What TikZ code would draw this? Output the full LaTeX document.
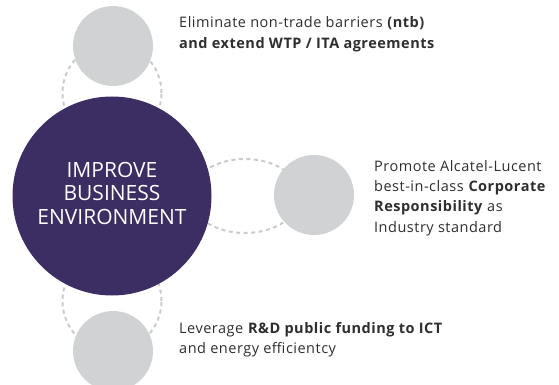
\documentclass[tikz,border=0pt]{standalone}
\usepackage{fontspec}
\setmainfont{Open Sans}
\newfontfamily\capfont[LetterSpace=3.5]{Open Sans}
\usetikzlibrary{shapes.geometric}
\definecolor{ipurple}{HTML}{3C2D63}
\definecolor{igray}{HTML}{D1D2D4}
\definecolor{idash}{HTML}{CACBCD}
\definecolor{itext}{HTML}{2E2E2E}
\tikzset{
  bubble/.style={circle, fill=igray, minimum size=80pt, inner sep=0pt},
  ring/.style={ellipse, draw=idash, line width=2pt, dash pattern=on 4pt off 3.5pt, inner sep=0pt},
  caption/.style={anchor=north west, inner sep=0pt, align=left, text=itext,
    font=\capfont\fontsize{14.5}{20.3}\selectfont}
}
\begin{document}
\begin{tikzpicture}[x=1pt,y=-1pt]
\useasboundingbox (0,0) rectangle (559,385);
% dashed rings behind
\node[ring, minimum width=99pt, minimum height=100pt] (ringtop) at (112,93) {};
\node[ring, minimum width=99pt, minimum height=100pt] (ringbot) at (112,301) {};
\node[ring, minimum width=110pt, minimum height=74pt] (ringright) at (245,196) {};
% circles
\node[circle, fill=ipurple, minimum size=199pt, inner sep=0pt] (main) at (112,196) {};
\node[bubble] (top) at (113,46) {};
\node[bubble] (right) at (314,195) {};
\node[bubble] (bottom) at (113,351) {};
% main text
\node[text=white, align=center, inner sep=0pt, font=\fontsize{21}{23.5}\selectfont] (maintext) at (112,193) {IMPROVE\\BUSINESS\\ENVIRONMENT};
% captions
\node[caption, font=\capfont\fontsize{14.5}{21.5}\selectfont] (ttop) at (179,16) {Eliminate non-trade barriers \textbf{(ntb)}\\\textbf{and extend WTP / ITA agreements}};
\node[caption] (tright) at (374,160) {Promote Alcatel-Lucent\\best-in-class \textbf{Corporate}\\\textbf{Responsibility} as\\Industry standard};
\node[caption] (tbot) at (179,322) {Leverage \textbf{R\&D public funding to ICT}\\and energy efficientcy};
\end{tikzpicture}
\end{document}
